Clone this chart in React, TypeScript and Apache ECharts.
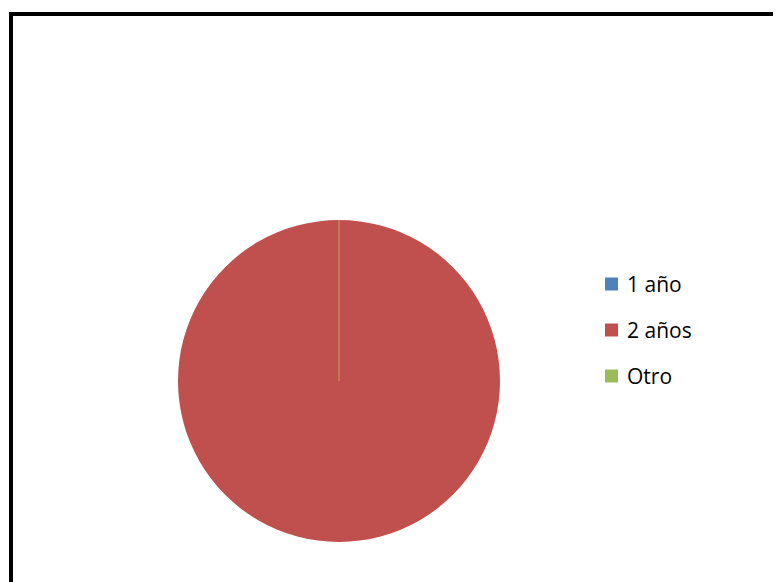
import React, { useEffect, useRef } from "react";
import * as echarts from "echarts";

const categories = ["1 año", "2 años", "Otro"];
const values = [0, 100, 0];
const colors = ["#4F81BD", "#C0504D", "#9BBB59"];

export default function App() {
  const ref = useRef<HTMLDivElement>(null);
  useEffect(() => {
    if (!ref.current) return;
    const chart = echarts.init(ref.current, null, { renderer: "svg" });
    const cx = 331;
    const cy = 373;
    const r = 161;
    chart.setOption({
      animation: false,
      color: colors,
      legend: {
        orient: "vertical",
        left: 592,
        top: 259,
        icon: "rect",
        itemWidth: 13,
        itemHeight: 13,
        itemGap: 22,
        data: categories,
        textStyle: {
          fontFamily: "Open Sans",
          fontSize: 21,
          color: "#000",
          lineHeight: 24,
          padding: [0, 0, 0, 4],
        },
      },
      graphic: [
        {
          type: "rect",
          shape: { x: 3, y: 6, width: 900, height: 700 },
          style: { fill: "none", stroke: "#000", lineWidth: 4 },
          silent: true,
        },
        {
          type: "line",
          shape: { x1: cx, y1: cy, x2: cx, y2: cy - r },
          style: { stroke: "#C8A25A", lineWidth: 1 },
          z: 100,
          silent: true,
        },
      ],
      series: [
        {
          type: "pie",
          center: [cx, cy],
          radius: r,
          startAngle: 90,
          clockwise: true,
          label: { show: false },
          labelLine: { show: false },
          stillShowZeroSum: true,
          itemStyle: { borderWidth: 0 },
          data: categories.map((c, i) => ({ name: c, value: values[i] })),
        },
      ],
    });
    return () => chart.dispose();
  }, []);
  return <div ref={ref} style={{ width: 773, height: 574 }} />;
}
